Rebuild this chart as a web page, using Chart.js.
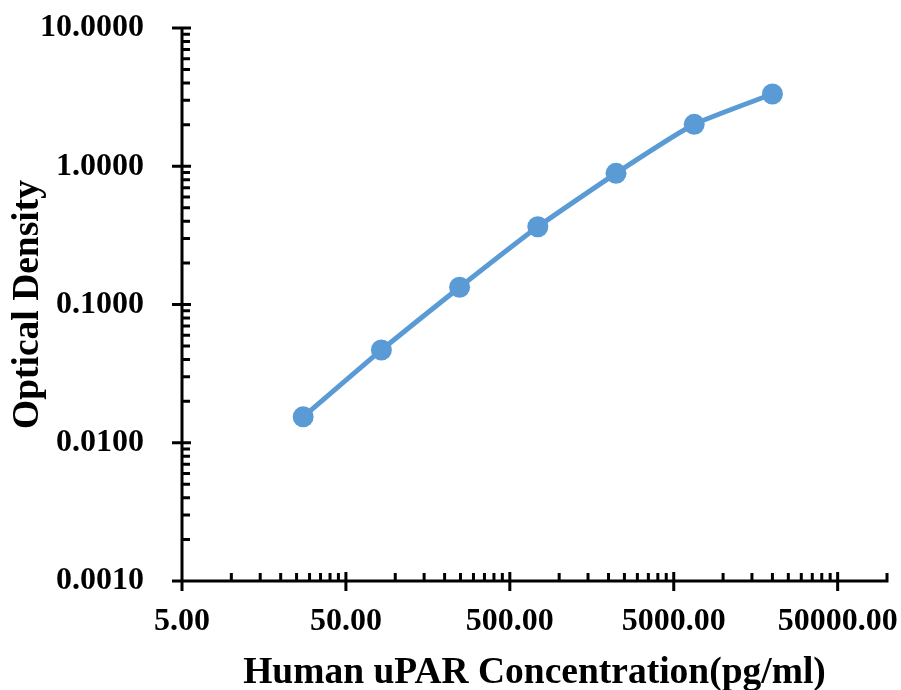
<!DOCTYPE html>
<html>
<head>
<meta charset="utf-8">
<script src="https://cdn.jsdelivr.net/npm/chart.js@4/dist/chart.umd.min.js"></script>
<style>
  html, body { margin: 0; padding: 0; background: #ffffff; }
  #wrap { width: 901px; height: 690px; }
</style>
</head>
<body>
<div id="wrap"><canvas id="c" width="901" height="690"></canvas></div>
<script>
// ---- data ----
const concentrations = [27.43, 82.30, 246.91, 740.74, 2222.22, 6666.67, 20000];
const opticalDensity = [0.0154, 0.0469, 0.1332, 0.365, 0.889, 2.011, 3.332];
const xMajorTicks = [5, 50, 500, 5000, 50000];
const yMajorTicks = [0.001, 0.01, 0.1, 1, 10];
const xTitle = 'Human uPAR Concentration(pg/ml)';
const yTitle = 'Optical Density';

const FONT = '"Liberation Serif", "Times New Roman", serif';
const X_MIN = 5, X_MAX = 100000, Y_MIN = 0.001, Y_MAX = 10;

const points = concentrations.map((c, i) => ({ x: c, y: opticalDensity[i] }));

function minorValues(base, max) {
  const out = [];
  for (let p = base; p < max * 1.0001; p *= 10) {
    for (let k = 2; k <= 9; k++) {
      const v = p * k;
      if (v <= max * 1.0001) out.push(v);
    }
  }
  return out;
}

const axisPlugin = {
  id: 'axisPlugin',
  beforeDatasetsDraw(chart) {
    const ctx = chart.ctx;
    const xs = chart.scales.x, ys = chart.scales.y;
    const ax = xs.getPixelForValue(X_MIN);
    const ay = ys.getPixelForValue(Y_MIN);
    const major = 9, minor = 8;
    ctx.save();
    ctx.strokeStyle = '#000000';
    ctx.lineWidth = 3;
    ctx.lineCap = 'butt';
    ctx.beginPath();
    ctx.moveTo(ax - 10, ay);
    ctx.lineTo(xs.getPixelForValue(X_MAX) + 1.5, ay);
    ctx.moveTo(ax, ys.getPixelForValue(Y_MAX));
    ctx.lineTo(ax, ay + 10);
    yMajorTicks.forEach(v => {
      const py = ys.getPixelForValue(v);
      ctx.moveTo(ax - 10, py);
      ctx.lineTo(ax + major, py);
    });
    minorValues(Y_MIN, Y_MAX).forEach(v => {
      const py = ys.getPixelForValue(v);
      ctx.moveTo(ax, py);
      ctx.lineTo(ax + minor, py);
    });
    xMajorTicks.forEach(v => {
      const px = xs.getPixelForValue(v);
      ctx.moveTo(px, ay - major);
      ctx.lineTo(px, ay + 10);
    });
    minorValues(X_MIN, X_MAX).forEach(v => {
      const px = xs.getPixelForValue(v);
      ctx.moveTo(px, ay - minor);
      ctx.lineTo(px, ay);
    });
    ctx.stroke();
    ctx.restore();
  }
};

new Chart(document.getElementById('c'), {
  type: 'line',
  data: {
    datasets: [{
      data: points,
      borderColor: '#5B9BD5',
      backgroundColor: '#5B9BD5',
      borderWidth: 5,
      pointRadius: 10.5,
      pointHoverRadius: 10.5,
      pointBorderWidth: 0,
      pointBackgroundColor: '#5B9BD5',
      tension: 0.15,
      fill: false
    }]
  },
  options: {
    responsive: false,
    animation: false,
    devicePixelRatio: 1,
    layout: { padding: { left: 0, top: 28, right: 14, bottom: 0 } },
    plugins: { legend: { display: false }, tooltip: { enabled: false } },
    scales: {
      x: {
        type: 'logarithmic',
        min: X_MIN, max: X_MAX,
        grid: { display: false },
        border: { display: false },
        afterBuildTicks(scale) { scale.ticks = xMajorTicks.map(v => ({ value: v })); },
        afterFit(scale) { scale.height = 109; scale.paddingLeft = 0; scale.paddingRight = 0; },
        ticks: {
          autoSkip: false, maxRotation: 0, minRotation: 0,
          padding: 14,
          color: '#000000',
          font: { family: FONT, size: 32, weight: 'bold' },
          callback: (v) => Number(v).toFixed(2)
        },
        title: {
          display: true, text: xTitle, color: '#000000',
          font: { family: FONT, size: 37.5, weight: 'bold', lineHeight: 0.9 },
          padding: { top: 0, bottom: 0 }
        }
      },
      y: {
        type: 'logarithmic',
        min: Y_MIN, max: Y_MAX,
        grid: { display: false },
        border: { display: false },
        afterBuildTicks(scale) { scale.ticks = yMajorTicks.map(v => ({ value: v })); },
        afterFit(scale) { scale.width = 182; scale.paddingTop = 0; scale.paddingBottom = 0; },
        ticks: {
          autoSkip: false,
          padding: 30,
          color: '#000000',
          font: { family: FONT, size: 32, weight: 'bold' },
          callback: (v) => Number(v).toFixed(4)
        },
        title: {
          display: true, text: yTitle, color: '#000000',
          font: { family: FONT, size: 37.5, weight: 'bold', lineHeight: 1 },
          padding: { top: 10, bottom: 0 }
        }
      }
    }
  },
  plugins: [axisPlugin]
});
</script>
</body>
</html>
